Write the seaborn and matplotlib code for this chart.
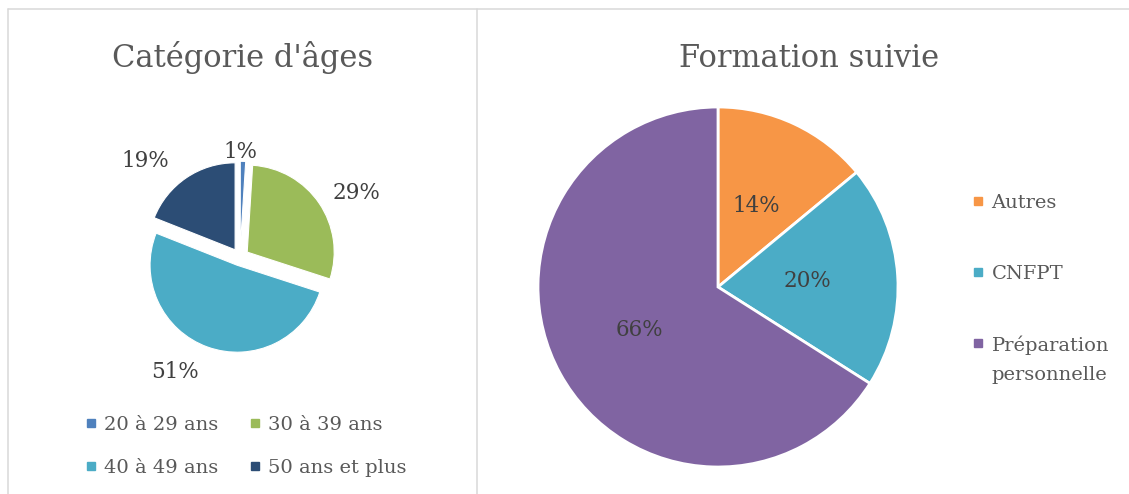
import matplotlib
matplotlib.use("Agg")
import numpy as np
import matplotlib.pyplot as plt
import seaborn as sns
from matplotlib.lines import Line2D
from matplotlib.legend_handler import HandlerLine2D

# ---------------- data ----------------
age_categories = ["20 à 29 ans", "30 à 39 ans", "40 à 49 ans", "50 ans et plus"]
age_values = [1, 29, 51, 19]
age_colors = ["#4F81BD", "#9BBB59", "#4BACC6", "#2C4D75"]

training_categories = ["Autres", "CNFPT", "Préparation\npersonnelle"]
training_values = [14, 20, 66]
training_colors = ["#F79646", "#4BACC6", "#8064A2"]

# ---------------- style ----------------
sns.set_theme(style="white")
plt.rcParams['font.family'] = ['DejaVu Serif', 'DejaVu Sans']

W, H = 1129, 494
fig = plt.figure(figsize=(W / 100, H / 100), dpi=100)
fig.patch.set_facecolor("white")

TITLE_C = "#595959"
LABEL_C = "#404040"
LEGEND_C = "#595959"
BORDER_C = "#D9D9D9"


def px_axes(cx, cy, half):
    return fig.add_axes([(cx - half) / W, 1 - (cy + half) / H, 2 * half / W, 2 * half / H])


def fig_line(x0, y0, x1, y1):
    fig.add_artist(Line2D([x0 / W, x1 / W], [1 - y0 / H, 1 - y1 / H],
                          transform=fig.transFigure, color=BORDER_C, lw=1.1))


class HandlerFirstLine(HandlerLine2D):
    """Align the square marker with the first line of a two-line label."""
    def __init__(self, shift, **kw):
        super().__init__(**kw)
        self.shift = shift

    def create_artists(self, legend, orig_handle, xdescent, ydescent, width,
                       height, fontsize, trans):
        return super().create_artists(legend, orig_handle, xdescent,
                                      ydescent - 2 * self.shift, width, height,
                                      fontsize, trans)


# panel borders
fig_line(8, 9, W, 9)
fig_line(8, 9, 8, H)
fig_line(477, 9, 477, H)

# ---------------- left pie ----------------
ax1 = px_axes(240, 257, 170)
wedges1, _, auto1 = ax1.pie(
    age_values, colors=age_colors, startangle=90, counterclock=False,
    explode=[0.1] * len(age_values), autopct=lambda p: f"{p:.0f}%",
    wedgeprops=dict(edgecolor="white", linewidth=0.8),
    textprops=dict(fontsize=15.5, color=LABEL_C))
lim1 = 170 / 87
ax1.set_xlim(-lim1, lim1)
ax1.set_ylim(-lim1, lim1)
ax1.axis("off")
label_dist = [1.21, 1.53, 1.52, 1.55]
label_nudge = [1.3, -5.5, -9.7, 10.5]
for w, t, d, n in zip(wedges1, auto1, label_dist, label_nudge):
    ang = np.deg2rad((w.theta1 + w.theta2) / 2 + n)
    t.set_position((d * np.cos(ang), d * np.sin(ang)))

fig.text(243 / W, 1 - 67 / H, "Catégorie d'âges", ha="center", va="baseline",
         fontsize=22, color=TITLE_C)

order = [0, 2, 1, 3]
h1 = [Line2D([], [], marker="s", linestyle="none", markersize=5.5,
             markerfacecolor=age_colors[i], markeredgecolor=age_colors[i]) for i in order]
fig.legend(h1, [age_categories[i] for i in order], loc="upper left",
           bbox_to_anchor=(85 / W, 1 - 416 / H), ncol=2, frameon=False,
           fontsize=14, labelcolor=LEGEND_C, handlelength=0.6, handletextpad=0.4,
           columnspacing=1.55, labelspacing=1.3, borderpad=0, borderaxespad=0)

# ---------------- right pie ----------------
ax2 = px_axes(718, 287, 200)
wedges2, _, auto2 = ax2.pie(
    training_values, colors=training_colors, startangle=90, counterclock=False,
    autopct=lambda p: f"{p:.0f}%", pctdistance=0.5,
    wedgeprops=dict(edgecolor="white", linewidth=2),
    textprops=dict(fontsize=15.5, color=LABEL_C))
lim2 = 200 / 180
ax2.set_xlim(-lim2, lim2)
ax2.set_ylim(-lim2, lim2)
ax2.axis("off")

fig.text(809 / W, 1 - 67 / H, "Formation suivie", ha="center", va="baseline",
         fontsize=22, color=TITLE_C)

h2 = [Line2D([], [], marker="s", linestyle="none", markersize=5.5,
             markerfacecolor=c, markeredgecolor=c) for c in training_colors]
leg2 = fig.legend(h2, training_categories, loc="upper left",
                  bbox_to_anchor=(972 / W, 1 - 194 / H), ncol=1, frameon=False,
                  fontsize=14, labelcolor=LEGEND_C, handlelength=0.6, handletextpad=0.4,
                  labelspacing=2.7, borderpad=0, borderaxespad=0,
                  handler_map={h2[2]: HandlerFirstLine(shift=12.2)})
for t in leg2.get_texts():
    t.set_linespacing(1.8)

fig.savefig("out.png", dpi=100, facecolor="white")
